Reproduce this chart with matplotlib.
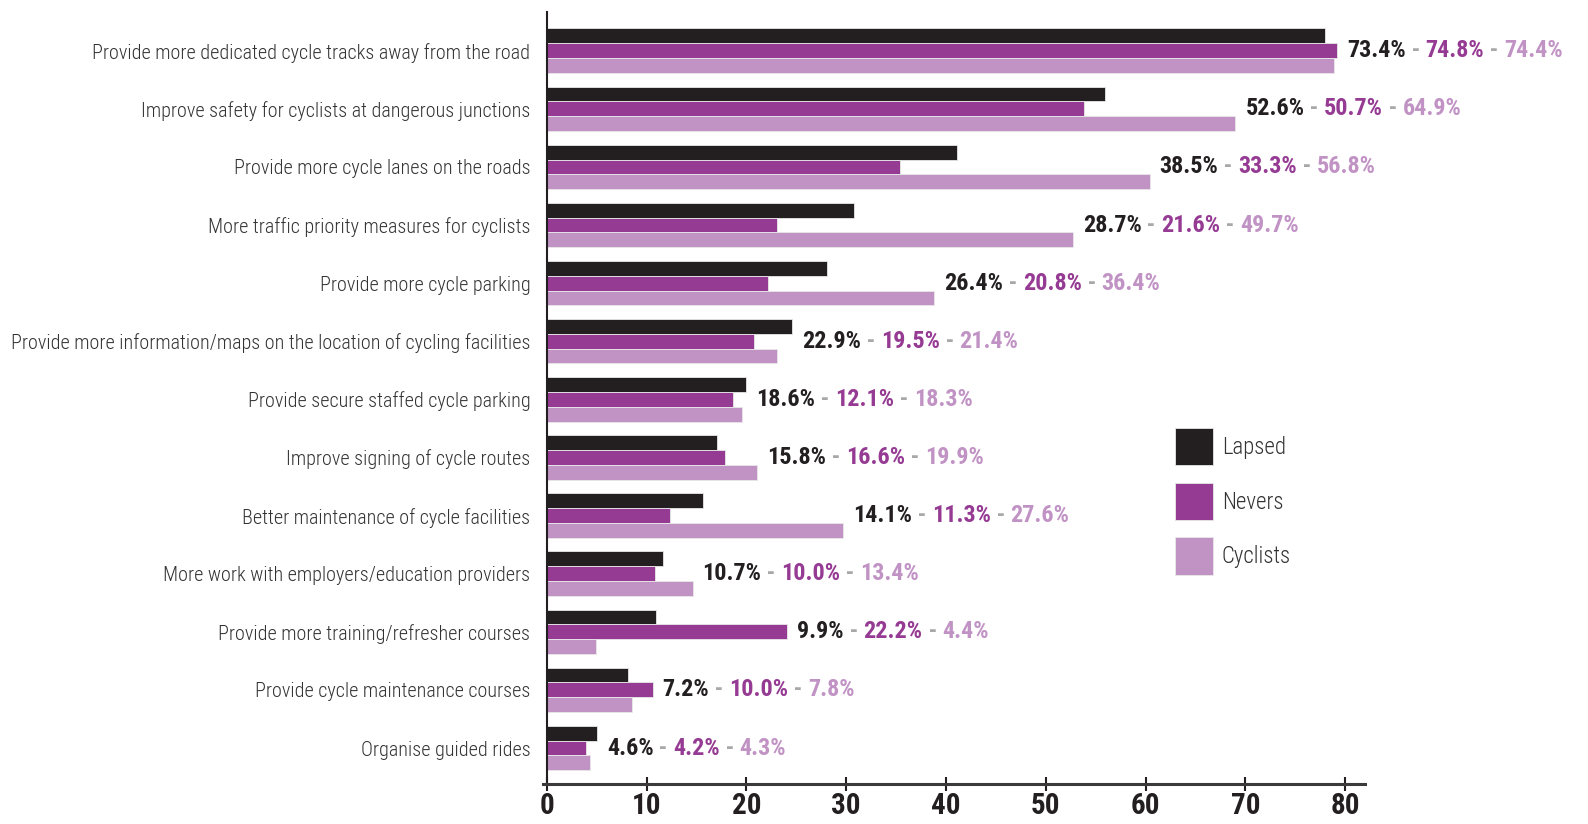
import numpy as np
import matplotlib
matplotlib.use("Agg")
import matplotlib.pyplot as plt
from matplotlib.offsetbox import TextArea, HPacker, AnnotationBbox

categories = [
    "Provide more dedicated cycle tracks away from the road",
    "Improve safety for cyclists at dangerous junctions",
    "Provide more cycle lanes on the roads",
    "More traffic priority measures for cyclists",
    "Provide more cycle parking",
    "Provide more information/maps on the location of cycling facilities",
    "Provide secure staffed cycle parking",
    "Improve signing of cycle routes",
    "Better maintenance of cycle facilities",
    "More work with employers/education providers",
    "Provide more training/refresher courses",
    "Provide cycle maintenance courses",
    "Organise guided rides",
]

# bar lengths as drawn against the axis
lapsed = [78.0, 55.9, 41.1, 30.8, 28.1, 24.6, 20.0, 17.0, 15.6, 11.6, 10.9, 8.1, 5.0]
nevers = [79.2, 53.8, 35.4, 23.1, 22.2, 20.8, 18.7, 17.8, 12.3, 10.8, 24.1, 10.6, 3.9]
cyclists = [78.9, 69.0, 60.4, 52.7, 38.8, 23.1, 19.6, 21.1, 29.7, 14.6, 4.9, 8.5, 4.3]

# printed percentages
lapsed_txt = ["73.4%", "52.6%", "38.5%", "28.7%", "26.4%", "22.9%", "18.6%",
              "15.8%", "14.1%", "10.7%", "9.9%", "7.2%", "4.6%"]
nevers_txt = ["74.8%", "50.7%", "33.3%", "21.6%", "20.8%", "19.5%", "12.1%",
              "16.6%", "11.3%", "10.0%", "22.2%", "10.0%", "4.2%"]
cyclists_txt = ["74.4%", "64.9%", "56.8%", "49.7%", "36.4%", "21.4%", "18.3%",
                "19.9%", "27.6%", "13.4%", "4.4%", "7.8%", "4.3%"]

series = ["Lapsed", "Nevers", "Cyclists"]
colors = ["#231f20", "#963b93", "#c193c5"]
dash_color = "#a8a8a8"

fam = ["Roboto Condensed", "Roboto", "DejaVu Sans"]

fig = plt.figure(figsize=(15.88, 8.24), dpi=100)
ax = fig.add_axes([0.3419, 0.0485, 0.5177, 0.9365])

# spine position first: it resets the tick labels
for s in ["top", "right"]:
    ax.spines[s].set_visible(False)
ax.spines["left"].set_position(("data", 0))
ax.spines["left"].set_color("#231f20")
ax.spines["left"].set_linewidth(1.5)
ax.spines["bottom"].set_color("#3a3a3a")
ax.spines["bottom"].set_linewidth(2.2)

y = np.arange(len(categories))
h = 0.255
for i, (vals, name) in enumerate(zip([lapsed, nevers, cyclists], series)):
    ax.barh(y + (i - 1) * h, vals, height=h, color=colors[i], label=name,
            edgecolor="#e8e8e8", linewidth=0.6)

ax.set_ylim(12.62, -0.66)
ax.set_xlim(-0.4, 82)
ax.set_yticks(y)
ax.set_yticklabels(categories, fontsize=14.5, family=fam, fontweight="light",
                   color="#333333")
ax.tick_params(axis="y", length=0, pad=12)
ax.set_xticks(range(0, 81, 10))
ax.set_xticklabels([str(t) for t in range(0, 81, 10)], fontsize=21,
                   family=fam, fontweight="bold", color="#231f20")
ax.tick_params(axis="x", direction="inout", length=10, width=1.5,
               color="#231f20", pad=1)

# value labels, three colours in one line
for k in range(len(categories)):
    xmax = max(lapsed[k], nevers[k], cyclists[k])
    parts = [(lapsed_txt[k], colors[0]), (" - ", dash_color),
             (nevers_txt[k], colors[1]), (" - ", dash_color),
             (cyclists_txt[k], colors[2])]
    boxes = [TextArea(t, textprops=dict(color=c, fontsize=17.4, fontweight="bold",
                                        family=fam)) for t, c in parts]
    pack = HPacker(children=boxes, pad=0, sep=0, align="center")
    ab = AnnotationBbox(pack, (xmax + 1.0, y[k]), xycoords="data",
                        box_alignment=(0, 0.5), frameon=False, pad=0,
                        annotation_clip=False)
    ax.add_artist(ab)

leg = ax.legend(loc="upper left", bbox_to_anchor=(1175 / 1588, 1 - 428 / 824),
                bbox_transform=fig.transFigure, frameon=False,
                handlelength=1.65, handleheight=2.155, labelspacing=0.755,
                handletextpad=0.4, borderpad=0, borderaxespad=0,
                prop=dict(family=fam, size=16.4, weight="light"))
for t in leg.get_texts():
    t.set_color("#333333")

fig.savefig("out.png", dpi=100)
